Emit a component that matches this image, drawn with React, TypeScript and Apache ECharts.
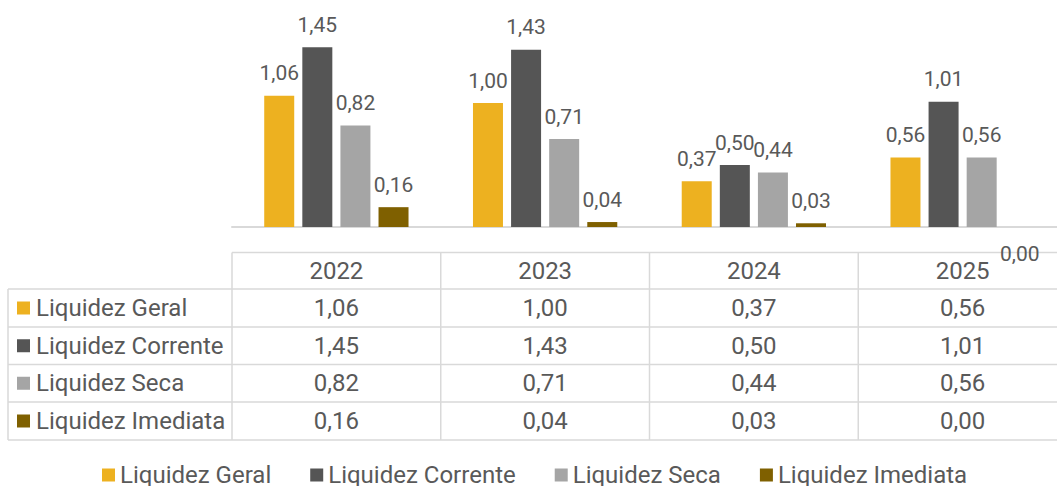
import React, { useEffect, useRef } from "react";
import * as echarts from "echarts";

const years = ["2022", "2023", "2024", "2025"];
const seriesNames = ["Liquidez Geral", "Liquidez Corrente", "Liquidez Seca", "Liquidez Imediata"];
const liquidezGeral = [1.06, 1.0, 0.37, 0.56];
const liquidezCorrente = [1.45, 1.43, 0.5, 1.01];
const liquidezSeca = [0.82, 0.71, 0.44, 0.56];
const liquidezImediata = [0.16, 0.04, 0.03, 0.0];
const colors = ["#EDB120", "#555555", "#A5A5A5", "#7F6000"];

const allSeries = [liquidezGeral, liquidezCorrente, liquidezSeca, liquidezImediata];
const fmt = (v: number) => v.toFixed(2).replace(".", ",");
const FONT = "Roboto";
const TEXT = "#595959";
const BORDER = "#D9D9D9";
const TFS = 24;

export default function App() {
  const ref = useRef<HTMLDivElement>(null);
  useEffect(() => {
    const chart = echarts.init(ref.current!, null, { renderer: "svg" });
    const option: any = {
      animation: false,
      textStyle: { fontFamily: FONT },
      grid: { left: 232, right: 0, top: 4, bottom: 259 },
      xAxis: {
        type: "category",
        data: years,
        axisLabel: { show: false },
        axisTick: { show: false },
        axisLine: { lineStyle: { color: BORDER, width: 2 } },
      },
      yAxis: { type: "value", min: 0, max: 1.8, show: false, splitLine: { show: false } },
      legend: {
        left: 102,
        top: 463,
        padding: 0,
        itemWidth: 13,
        itemHeight: 13,
        itemGap: 39,
        icon: "rect",
        textStyle: { fontSize: TFS, color: TEXT, fontFamily: FONT },
        data: seriesNames,
      },
      series: allSeries.map((arr, si) => ({
        name: seriesNames[si],
        type: "bar",
        barWidth: 30,
        barGap: "27%",
        itemStyle: { color: colors[si] },
        label: {
          show: true,
          position: "top",
          distance: 12,
          fontSize: 21,
          color: TEXT,
          fontFamily: FONT,
          formatter: (p: any) => fmt(p.value),
        },
        data: arr.map((v) => (v === 0 ? { value: v, label: { offset: [0, 49] } } : v)),
      })),
    };
    chart.setOption(option);

    const centers = years.map((_, i) => chart.convertToPixel({ xAxisIndex: 0 }, i) as number);
    const band = centers.length > 1 ? centers[1] - centers[0] : 200;
    const bounds = [centers[0] - band / 2, ...centers.map((c) => c + band / 2)];
    const rowY = [252.5, 289, 327, 364.5, 402, 440];
    const leftX = 8;
    const rightX = bounds[bounds.length - 1];
    const els: any[] = [];
    const line = (x1: number, y1: number, x2: number, y2: number) =>
      els.push({ type: "line", shape: { x1, y1, x2, y2 }, style: { stroke: BORDER, lineWidth: 1.5 }, silent: true });
    line(bounds[0], rowY[0], rightX, rowY[0]);
    for (let r = 1; r < rowY.length; r++) line(leftX, rowY[r], rightX, rowY[r]);
    line(leftX, rowY[1], leftX, rowY[5]);
    bounds.forEach((b) => line(b, rowY[0], b, rowY[5]));
    years.forEach((y, i) =>
      els.push({
        type: "text",
        x: centers[i],
        y: (rowY[0] + rowY[1]) / 2,
        style: { text: y, fill: TEXT, font: `${TFS}px ${FONT}`, align: "center", verticalAlign: "middle" },
      })
    );
    allSeries.forEach((arr, si) => {
      const cy = (rowY[si + 1] + rowY[si + 2]) / 2;
      els.push({ type: "rect", shape: { x: 17, y: cy - 6.5, width: 13, height: 13 }, style: { fill: colors[si] } });
      els.push({
        type: "text",
        x: 36,
        y: cy,
        style: { text: seriesNames[si], fill: TEXT, font: `${TFS}px ${FONT}`, align: "left", verticalAlign: "middle" },
      });
      arr.forEach((v, i) =>
        els.push({
          type: "text",
          x: centers[i],
          y: cy,
          style: { text: fmt(v), fill: TEXT, font: `${TFS}px ${FONT}`, align: "center", verticalAlign: "middle" },
        })
      );
    });
    chart.setOption({ graphic: { elements: els } });
    return () => chart.dispose();
  }, []);
  return (
    <div style={{ position: "absolute", left: 0, top: 0, width: 1057, height: 486, overflow: "hidden", background: "#fff" }}>
      <div ref={ref} style={{ width: 1067, height: 486 }} />
    </div>
  );
}
